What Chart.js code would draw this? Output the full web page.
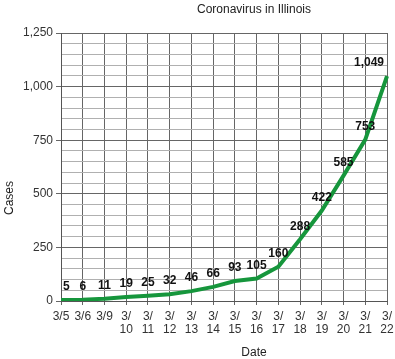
<!DOCTYPE html>
<html lang="en">
<head>
<meta charset="UTF-8" />
<title>Coronavirus in Illinois</title>
<script src="https://cdn.jsdelivr.net/npm/chart.js"></script>
<style>
    body { margin: 0; background: #fff; font-family: Arial, 'Liberation Sans', sans-serif; }
    .wrap { position: relative; width: 395px; height: 359px; }
    .title, .ytitle, .xtitle { position: absolute; font-size: 12px; color: #222; white-space: nowrap; }
    .title { left: 254px; top: 2px; transform: translateX(-50%); }
    .xtitle { left: 254px; top: 345px; transform: translateX(-50%); }
    .ytitle { left: 9px; top: 198px; transform: translate(-50%, -50%) rotate(-90deg); }
</style>
</head>
<body>
<div class="wrap">
    <canvas id="chart" width="395" height="359"></canvas>
    <div class="title">Coronavirus in Illinois</div>
    <div class="ytitle">Cases</div>
    <div class="xtitle">Date</div>
</div>
<script>
    const dates = ['3/5', '3/6', '3/9', '3/10', '3/11', '3/12', '3/13', '3/14',
                   '3/15', '3/16', '3/17', '3/18', '3/19', '3/20', '3/21', '3/22'];
    const cases = [5, 6, 11, 19, 25, 32, 46, 66, 93, 105, 160, 288, 422, 585, 753, 1049];
    const yTicks = [0, 250, 500, 750, 1000, 1250];

    const pointLabels = {
        id: 'pointLabels',
        afterDatasetsDraw(chart) {
            const ctx = chart.ctx;
            const area = chart.chartArea;
            const meta = chart.getDatasetMeta(0);
            ctx.save();
            ctx.font = 'bold 12px Arial, "Liberation Sans", sans-serif';
            ctx.fillStyle = '#111';
            ctx.textBaseline = 'middle';
            ctx.textAlign = 'center';
            meta.data.forEach((pt, i) => {
                const txt = cases[i].toLocaleString('en-US');
                const w = ctx.measureText(txt).width;
                let x = pt.x;
                if (x - w / 2 < area.left + 2) x = area.left + 2 + w / 2;
                if (x + w / 2 > area.right - 3) x = area.right - 3 - w / 2;
                ctx.fillText(txt, x, pt.y - 13);
            });
            ctx.restore();
        }
    };

    new Chart(document.getElementById('chart'), {
        type: 'line',
        data: {
            labels: dates,
            datasets: [{
                data: cases,
                borderColor: '#16963c',
                borderWidth: 4,
                pointRadius: 0,
                tension: 0,
                fill: false
            }]
        },
        options: {
            responsive: false,
            animation: false,
            layout: { padding: { top: 33, right: 8, left: 0, bottom: 0 } },
            plugins: { legend: { display: false }, tooltip: { enabled: false } },
            scales: {
                x: {
                    offset: false,
                    grid: { color: '#666', tickLength: 4, tickColor: '#666' },
                    border: { color: '#555' },
                    ticks: {
                        autoSkip: false,
                        maxRotation: 0,
                        padding: 5,
                        color: '#333',
                        font: { size: 12, family: 'Arial, "Liberation Sans", sans-serif', lineHeight: 1.1 },
                        callback: (v, i) => dates[i].length > 3 ? ['3/', dates[i].slice(2)] : dates[i]
                    },
                    afterFit: s => { s.height = 58; s.paddingLeft = 0; s.paddingRight = 0; }
                },
                y: {
                    min: 0,
                    max: 1250,
                    grid: {
                        color: c => c.tick && c.tick.value % 250 === 0 ? '#666' : '#b0b0b0',
                        tickColor: c => c.tick && c.tick.value % 250 === 0 ? '#666' : 'rgba(0,0,0,0)',
                        tickLength: 5
                    },
                    border: { color: '#555' },
                    ticks: {
                        autoSkip: false,
                        stepSize: 50,
                        padding: 3,
                        color: '#333',
                        font: { size: 12, family: 'Arial, "Liberation Sans", sans-serif' },
                        callback: v => yTicks.includes(v) ? v.toLocaleString('en-US') : ''
                    },
                    afterFit: s => { s.width = 61; s.paddingTop = 0; s.paddingBottom = 0; }
                }
            }
        },
        plugins: [pointLabels]
    });
</script>
</body>
</html>
